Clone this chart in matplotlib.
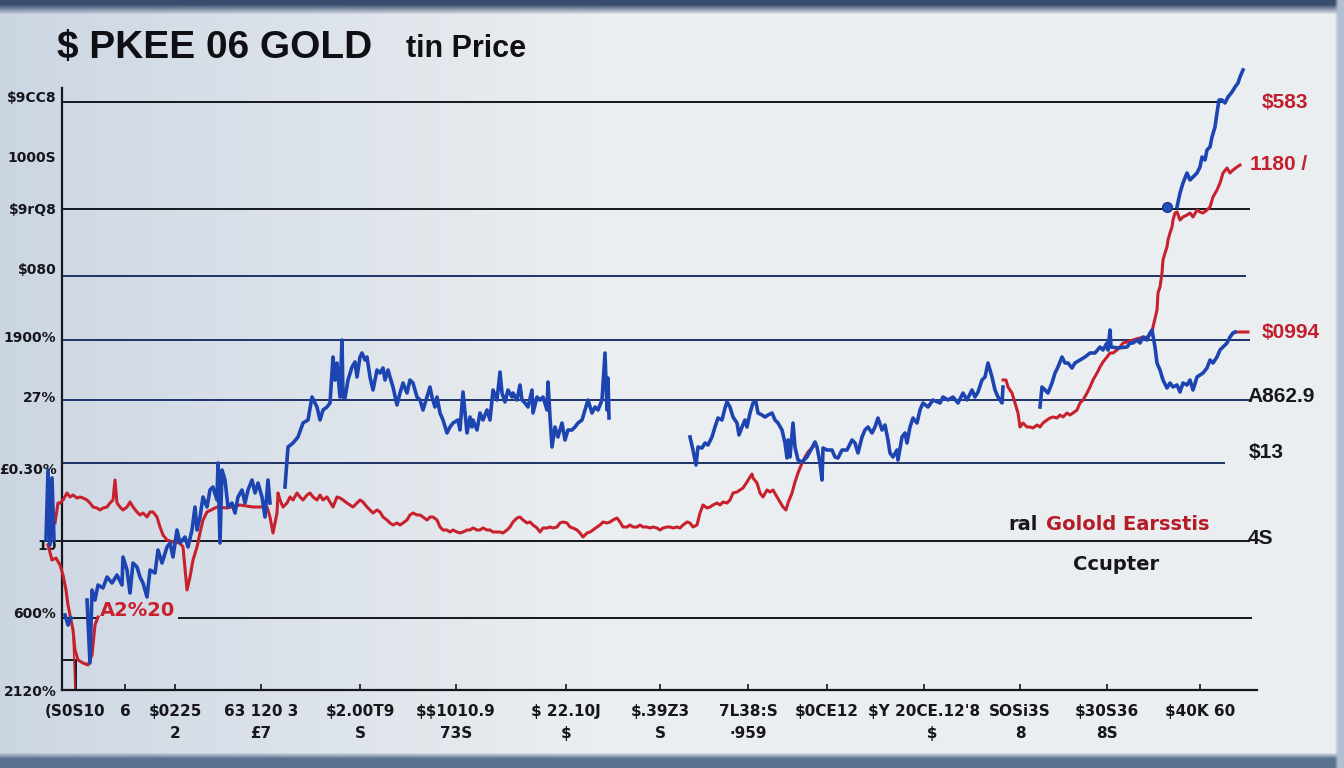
import numpy as np
import matplotlib
matplotlib.use("Agg")
import matplotlib.pyplot as plt

plt.rcParams['text.parse_math'] = False

# ---- data (day index, price); None breaks a line ----
blue_pts = [
    (46, 150), (48, 220), (50, 145), (52, 212), (54, 150), (None, None),
    (65, 75), (68, 65), (71, 72), (None, None),
    (87, 90), (90, 27), (92, 100), (95, 90), (98, 105), (103, 102), (107, 113), (112, 107),
    (117, 115), (122, 105), (123, 133), (127, 120), (130, 97), (133, 127), (137, 123), (140, 113),
    (143, 107), (147, 93), (150, 120), (155, 117), (158, 140), (162, 127), (167, 143), (170, 147),
    (173, 133), (177, 160), (180, 147), (185, 153), (188, 143), (192, 160), (195, 183), (197, 160),
    (200, 173), (203, 193), (207, 183), (210, 200), (213, 203), (217, 190), (218, 227), (220, 147),
    (222, 220), (225, 210), (228, 183), (232, 187), (235, 177), (238, 193), (242, 200), (245, 187),
    (248, 200), (252, 210), (255, 197), (258, 207), (262, 193), (265, 173), (268, 210), (270, 187),
    (None, None),
    (285, 203), (288, 243), (293, 247), (298, 253), (303, 267), (308, 270), (312, 293), (317, 283),
    (320, 270), (323, 280), (327, 283), (330, 287), (333, 333), (335, 310), (337, 327), (340, 293),
    (342, 350), (343, 293), (345, 292), (348, 310), (352, 323), (355, 328), (357, 313), (360, 333),
    (362, 337), (365, 330), (367, 333), (370, 313), (373, 300), (377, 320), (380, 317), (383, 322),
    (385, 310), (388, 320), (390, 313), (393, 303), (397, 285), (400, 297), (403, 307), (407, 297),
    (410, 310), (413, 307), (417, 293), (420, 290), (423, 280), (427, 293), (430, 303), (432, 293),
    (435, 283), (437, 293), (440, 277), (443, 270), (447, 257), (450, 263), (453, 267), (458, 270),
    (460, 260), (463, 298), (465, 277), (467, 257), (470, 273), (472, 263), (473, 270), (477, 260),
    (480, 277), (483, 270), (487, 280), (490, 270), (493, 300), (497, 290), (500, 318), (502, 297),
    (505, 288), (508, 300), (512, 293), (513, 297), (517, 290), (520, 305), (522, 290), (525, 287),
    (528, 283), (532, 300), (533, 277), (537, 293), (540, 290), (543, 293), (547, 280), (548, 308),
    (550, 273), (552, 243), (555, 263), (558, 253), (562, 267), (565, 250), (568, 260), (572, 260),
    (575, 263), (578, 267), (582, 270), (585, 280), (588, 290), (592, 277), (595, 283), (598, 280),
    (602, 290), (605, 337), (607, 280), (608, 312), (609, 272), (None, None),
    (690, 253), (693, 240), (696, 225), (698, 243), (702, 242), (705, 247), (708, 245), (712, 253),
    (715, 263), (718, 272), (722, 270), (725, 282), (727, 288), (730, 283), (733, 273), (737, 267),
    (739, 255), (742, 263), (745, 270), (747, 263), (750, 277), (753, 287), (756, 288), (758, 277),
    (762, 275), (765, 273), (768, 275), (772, 277), (775, 270), (778, 267), (782, 260), (785, 247),
    (787, 232), (788, 250), (790, 233), (793, 267), (795, 243), (798, 230), (802, 228), (807, 233),
    (815, 248), (817, 243), (820, 227), (822, 210), (823, 242), (827, 240), (832, 240), (835, 233),
    (838, 232), (842, 240), (847, 240), (852, 250), (855, 247), (858, 237), (862, 253), (865, 260),
    (868, 263), (872, 257), (875, 263), (878, 272), (882, 260), (885, 265), (888, 250), (890, 237),
    (893, 233), (897, 240), (898, 230), (902, 253), (905, 257), (907, 247), (910, 263), (913, 272),
    (917, 267), (920, 280), (923, 287), (928, 283), (933, 290), (940, 287), (943, 293), (948, 290),
    (953, 293), (958, 287), (963, 297), (967, 290), (972, 300), (975, 293), (978, 298), (982, 310),
    (985, 313), (988, 327), (992, 313), (995, 300), (998, 293), (1002, 287), (1003, 303),
    (None, None),
    (1040, 283), (1042, 303), (1045, 300), (1048, 297), (1052, 307), (1055, 317), (1058, 323),
    (1062, 333), (1065, 327), (1068, 327), (1072, 322), (1075, 327), (1080, 330), (1085, 333),
    (1090, 337), (1095, 337), (1100, 343), (1103, 340), (1107, 347), (1108, 340), (1110, 360),
    (1111, 343), (1118, 342), (1127, 343), (1130, 347), (1133, 347), (1137, 350), (1140, 347),
    (1143, 353), (1147, 350), (1150, 357), (1152, 360), (1155, 343), (1157, 327), (1160, 320),
    (1163, 310), (1167, 302), (1170, 307), (1173, 303), (1177, 305), (1180, 298), (1183, 307),
    (1187, 305), (1190, 310), (1193, 300), (1197, 313), (1200, 315), (1203, 317), (1207, 322),
    (1210, 330), (1213, 327), (1217, 333), (1220, 340), (1223, 343), (1227, 347), (1230, 353),
    (1233, 357), (1235, 358), (None, None),
    (1177, 483), (1180, 497), (1183, 507), (1187, 517), (1190, 510), (1193, 513), (1197, 517),
    (1200, 523), (1202, 533), (1205, 530), (1207, 540), (1210, 543), (1212, 553), (1215, 563),
    (1217, 577), (1219, 590), (1222, 590), (1225, 587), (1228, 593), (1232, 598), (1235, 603),
    (1238, 607), (1240, 613), (1243, 620),
]

red_pts = [
    (48, 145), (52, 130), (56, 132), (60, 125), (63, 115), (66, 100), (68, 85), (70, 75),
    (73, 60), (75, 40), (78, 30), (83, 27), (88, 25), (92, 35), (95, 65), (98, 73), (None, None),
    (55, 167), (58, 187), (60, 187), (63, 190), (67, 197), (70, 193), (73, 195), (77, 192),
    (80, 193), (83, 192), (87, 190), (90, 187), (93, 183), (97, 182), (100, 180), (103, 182),
    (107, 183), (110, 187), (113, 190), (115, 210), (117, 187), (120, 183), (123, 180), (127, 183),
    (130, 188), (133, 183), (137, 178), (140, 175), (143, 177), (147, 173), (150, 178), (153, 178),
    (157, 173), (160, 163), (163, 155), (167, 150), (173, 148), (180, 147), (183, 143), (187, 100),
    (190, 113), (193, 130), (197, 143), (200, 157), (203, 170), (207, 178), (217, 183), (227, 182),
    (240, 185), (253, 183), (267, 183), (270, 173), (273, 157), (277, 177), (278, 197), (280, 190),
    (283, 183), (287, 187), (290, 193), (293, 190), (297, 197), (300, 193), (303, 190), (307, 195),
    (310, 197), (313, 193), (317, 190), (320, 195), (323, 190), (327, 193), (330, 188), (333, 183),
    (337, 193), (340, 192), (343, 190), (347, 187), (350, 185), (353, 183), (357, 187), (360, 190),
    (363, 188), (367, 183), (370, 180), (373, 177), (377, 180), (380, 178), (383, 173), (387, 170),
    (390, 167), (393, 165), (397, 167), (400, 165), (403, 167), (407, 170), (410, 175), (413, 177),
    (417, 175), (420, 175), (423, 173), (427, 170), (430, 173), (433, 173), (437, 170), (440, 163),
    (443, 160), (447, 160), (450, 158), (453, 160), (457, 158), (460, 157), (463, 158), (467, 160),
    (470, 160), (473, 162), (477, 160), (480, 160), (483, 162), (487, 160), (490, 160), (493, 158),
    (497, 158), (500, 158), (503, 157), (507, 160), (510, 163), (513, 168), (517, 172), (520, 173),
    (523, 170), (527, 167), (530, 168), (533, 165), (537, 162), (540, 158), (543, 162), (547, 162),
    (550, 163), (553, 162), (557, 163), (560, 167), (563, 168), (567, 167), (570, 163), (573, 162),
    (577, 160), (580, 157), (583, 153), (587, 157), (590, 158), (593, 160), (597, 163), (600, 165),
    (603, 168), (607, 167), (610, 168), (613, 170), (617, 172), (620, 168), (623, 163), (627, 163),
    (630, 165), (633, 163), (637, 163), (640, 165), (643, 163), (647, 163), (650, 162), (653, 163),
    (657, 162), (660, 160), (663, 162), (667, 163), (670, 163), (673, 162), (677, 163), (680, 162),
    (683, 165), (687, 168), (690, 167), (693, 163), (697, 165), (700, 177), (703, 185), (707, 182),
    (710, 183), (713, 185), (717, 187), (720, 185), (723, 188), (727, 187), (730, 190), (733, 197),
    (737, 198), (740, 200), (743, 202), (747, 208), (750, 213), (752, 216), (753, 212), (757, 207),
    (760, 197), (763, 193), (767, 200), (770, 198), (773, 200), (777, 193), (780, 188), (783, 183),
    (786, 180), (788, 187), (792, 197), (795, 208), (798, 217), (802, 227), (805, 233), (808, 238),
    (812, 242), (813, 243), (None, None),
    (1003, 310), (1006, 310), (1008, 303), (1012, 297), (1015, 287), (1018, 277), (1020, 263),
    (1023, 267), (1027, 263), (1030, 263), (1033, 262), (1037, 265), (1040, 263), (1043, 267),
    (1047, 270), (1050, 272), (1053, 273), (1057, 272), (1060, 275), (1063, 273), (1067, 277),
    (1070, 275), (1073, 277), (1077, 280), (1080, 287), (1083, 290), (1087, 297), (1090, 303),
    (1093, 310), (1097, 317), (1100, 323), (1103, 328), (1107, 333), (1110, 337), (1113, 337),
    (1117, 340), (1120, 343), (1123, 347), (1127, 348), (1133, 350), (1140, 352), (1147, 353),
    (1152, 357), (1153, 363), (1157, 380), (1158, 397), (1160, 403), (1162, 417), (1163, 430),
    (1165, 437), (1167, 443), (1168, 450), (1170, 457), (1172, 463), (1173, 470), (1175, 477),
    (1177, 478), (1180, 470), (1183, 473), (1187, 475), (1190, 477), (1193, 473), (1197, 480),
    (1200, 478), (1203, 477), (1207, 480), (1210, 483), (1213, 493), (1217, 500), (1220, 507),
    (1223, 517), (1227, 522), (1230, 517), (1233, 520), (1237, 523), (1240, 525), (None, None),
    (1233, 357), (1237, 358), (1248, 358),
]
red_drop = [(73, 60), (75, 2)]
marker_pt = (1167, 483)

grid_levels = [588, 481, 414, 350, 290, 227, 149, 72, 72, 30]
grid_from = [62, 62, 62, 62, 62, 62, 40, 62, 178, 63]
grid_to = [1222, 1250, 1246, 1250, 1250, 1225, 1250, 98, 1252, 80]
grid_colors = ['#15171f', '#15171f', '#1f3268', '#1f3268', '#1f3268', '#1f3268',
               '#15171f', '#15171f', '#15171f', '#15171f']

y_ticks = [594, 533, 481, 422, 354, 294, 222, 145, 78, 0]
y_labels = ['$9CC8', '1000S', '$9rQ8', '$080', '1900%', '27%', '£0.30%', '10', '600%', '2120%']

x_ticks = [75, 125, 175, 261, 360, 456, 566, 660, 748, 827, 924, 1020, 1107, 1200]
x_labels = ['(S0S10', '6', '$0225\n2', '63 120 3\n£7', '$2.00T9\nS', '$$1010.9\n73S',
            '$ 22.10J\n$', '$.39Z3\nS', '7L38:S\n·959', '$0CE12', "$Y 20CE.12'8\n   $",
            'SOSi3S\n8', '$30S36\n8S', '$40K 60']

right_labels = [
    (1262, 587, '$583', '#c21f2d'),
    (1250, 525, '1180 /', '#c21f2d'),
    (1262, 358, '$0994', '#c21f2d'),
    (1247, 294, 'A862.9', '#16161c'),
    (1249, 237, '$13', '#16161c'),
    (1248, 152, '4S', '#16161c'),
]

blue_day, blue_price = np.array(blue_pts, dtype=float).T
red_day, red_price = np.array(red_pts, dtype=float).T
drop_day, drop_price = np.array(red_drop, dtype=float).T

W, H = 1344, 768
fig = plt.figure(figsize=(W / 100, H / 100), dpi=100)

# background: soft grey-blue gradient with a dark frame at top and bottom
bg = fig.add_axes([0, 0, 1, 1])
bg.set_axis_off()
xs = np.linspace(0, 1, W)
base = np.zeros((H, W, 3))
for k, (cl, cm, cr) in enumerate([(0.80, 0.925, 0.925), (0.84, 0.935, 0.935), (0.89, 0.945, 0.945)]):
    base[:, :, k] = np.interp(xs, [0, 0.45, 1], [cl, cm, cr])[None, :]
rows = np.arange(H)[:, None, None]
top = np.array([0.22, 0.30, 0.43])
w_top = np.clip((14 - rows) / 10, 0, 1)
base = base * (1 - w_top) + top * w_top
bot = np.array([0.36, 0.45, 0.57])
w_bot = np.clip((rows - 752) / 6, 0, 1)
base = base * (1 - w_bot) + bot * w_bot
cols = np.arange(W)[None, :, None]
side = np.array([0.70, 0.75, 0.82])
w_side = np.clip((cols - 1334) / 4, 0, 1)
base = base * (1 - w_side) + side * w_side
bg.imshow(base, extent=[0, 1, 0, 1], aspect='auto', interpolation='bilinear')
bg.set_xlim(0, 1)
bg.set_ylim(0, 1)

ax = fig.add_axes([62 / W, 78 / H, 1200 / W, 630 / H])
ax.patch.set_alpha(0)
ax.set_xlim(62, 1262)
ax.set_ylim(0, 630)

ax.hlines(grid_levels, grid_from, grid_to, colors=grid_colors, lw=1.4, zorder=1, clip_on=False)
ax.vlines([76], [0], [30], colors='#15171f', lw=1.4, zorder=1)

ax.plot(red_day, red_price, color='#c8202c', lw=2.2, zorder=3, solid_joinstyle='round',
        clip_on=False)
ax.plot(drop_day, drop_price, color='#c8202c', lw=1.3, zorder=3)
ax.plot(blue_day, blue_price, color='#1c45b2', lw=2.6, zorder=4, solid_joinstyle='round',
        clip_on=False)
ax.plot(*marker_pt, 'o', ms=7, mfc='#2350c0', mec='#173a8f', zorder=5)

for s in ['top', 'right']:
    ax.spines[s].set_visible(False)
ax.spines['left'].set_bounds(0, 602)
ax.spines['bottom'].set_bounds(62, 1257)
for s in ['left', 'bottom']:
    ax.spines[s].set_color('#15171f')
    ax.spines[s].set_linewidth(1.6)

ax.set_yticks(y_ticks)
ax.set_yticklabels(y_labels, fontsize=10, fontweight='bold', color='#16161c')
ax.tick_params(axis='y', length=0, pad=4)
ax.set_xticks(x_ticks)
ax.set_xticklabels(x_labels, fontsize=11, fontweight='bold', color='#16161c', linespacing=1.6)
ax.tick_params(axis='x', direction='in', length=4, width=1.2, color='#15171f', pad=10)

for x, y, txt, c in right_labels:
    ax.text(x, y, txt, color=c, fontsize=15, fontweight='bold', family='Liberation Sans',
            ha='left', va='center')

ax.text(100, 80, 'A2%20', color='#c8202c', fontsize=14, fontweight='bold', ha='left', va='center')
ax.text(1008, 166, 'ral', color='#16161c', fontsize=14, fontweight='bold', ha='left', va='center')
ax.text(1046, 166, 'Golold Earsstis', color='#b51c28', fontsize=14, fontweight='bold',
        ha='left', va='center')
ax.text(1116, 125, 'Ccupter', color='#16161c', fontsize=14, fontweight='bold', ha='center', va='center')

fig.text(57 / W, 1 - 58 / H, '$ PKEE 06 GOLD', fontsize=28, fontweight='bold',
         family='Liberation Sans', color='#0f0f14', ha='left', va='baseline')
fig.text(406 / W, 1 - 57 / H, 'tin Price', fontsize=22, fontweight='bold',
         family='Liberation Sans', color='#0f0f14', ha='left', va='baseline')

fig.savefig('out.png', dpi=100)
